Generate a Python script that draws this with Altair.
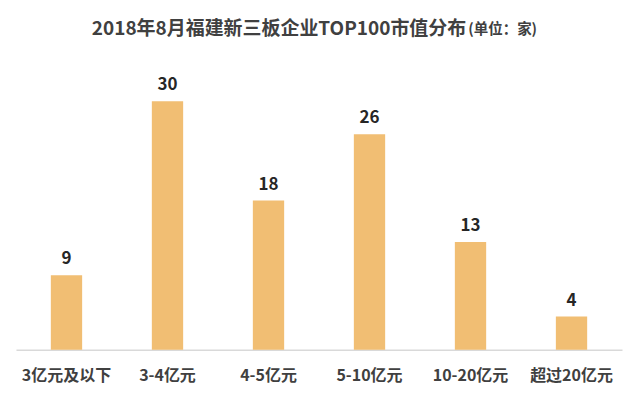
import altair as alt
import pandas as pd

categories = ["3亿元及以下", "3-4亿元", "4-5亿元", "5-10亿元", "10-20亿元", "超过20亿元"]
counts = [9, 30, 18, 26, 13, 4]
title_main = "2018年8月福建新三板企业TOP100市值分布"
title_unit = "(单位：家)"

FONT = "Noto Sans CJK SC"
df = pd.DataFrame({"category": categories, "count": counts})

base = alt.Chart(df).encode(
    x=alt.X(
        "category:N",
        sort=categories,
        scale=alt.Scale(paddingInner=0.69, paddingOuter=0.345),
        axis=alt.Axis(
            title=None, labelAngle=0, labelFont=FONT, labelFontSize=16,
            labelFontWeight="bold", labelColor="#404040", ticks=False,
            domainColor="#D9D9D9", domainWidth=1.5, labelPadding=18,
        ),
    ),
    y=alt.Y("count:Q", scale=alt.Scale(domain=[0, 40], nice=False), axis=None),
)

bars = base.mark_bar(color="#F1BE73")
labels = base.mark_text(
    dy=-16, font=FONT, fontSize=17, fontWeight="bold", color="#262626"
).encode(text="count:Q")

t1 = alt.Chart(pd.DataFrame({"t": [title_main]})).mark_text(
    align="left", baseline="middle", font=FONT, fontSize=19,
    fontWeight="bold", color="#404040"
).encode(x=alt.value(76), y=alt.value(11), text="t:N")

t2 = alt.Chart(pd.DataFrame({"t": [title_unit]})).mark_text(
    align="left", baseline="middle", font=FONT, fontSize=14.5,
    fontWeight="bold", color="#404040"
).encode(x=alt.value(453), y=alt.value(12), text="t:N")

chart = alt.layer(bars, labels, t1, t2).properties(
    width=607, height=332,
    autosize=alt.AutoSizeParams(type="none"),
    padding={"left": 8, "top": 10, "right": 10, "bottom": 45},
).configure_view(stroke=None)

chart.save("out.html", embed_options={"renderer": "svg", "actions": False})
